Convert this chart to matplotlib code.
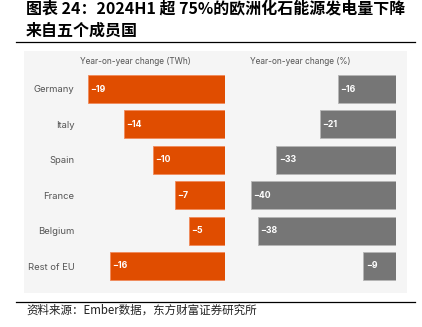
import matplotlib.pyplot as plt
from matplotlib.patches import Rectangle
from matplotlib.lines import Line2D

plt.rcParams['font.family'] = ['Inter', 'DejaVu Sans']

# data
countries = ['Germany', 'Italy', 'Spain', 'France', 'Belgium', 'Rest of EU']
change_twh = [-19, -14, -10, -7, -5, -16]
change_pct = [-16, -21, -33, -40, -38, -9]

title_1 = '图表 24：2024H1 超 75%的欧洲化石能源发电量下降'
title_2 = '来自五个成员国'
source = '资料来源：Ember数据，东方财富证券研究所'

W, H = 422, 327
ORANGE = '#e04d00'
GREY = '#767676'
CJK = ['Noto Sans CJK SC', 'DejaVu Sans']


def fx(px):
    return px / W


def fy(py):
    return 1 - py / H


fig = plt.figure(figsize=(W / 100, H / 100), dpi=100)

# title and rules
fig.text(fx(26), fy(8), title_1, family=CJK, fontsize=11.5, fontweight='bold',
         va='center', ha='left')
fig.text(fx(26), fy(31), title_2, family=CJK, fontsize=11.5, fontweight='bold',
         va='center', ha='left')
fig.add_artist(Line2D([fx(16), fx(415)], [fy(42.3), fy(42.3)], color='black', lw=0.9))
fig.add_artist(Line2D([fx(16), fx(415)], [fy(301.5), fy(301.5)], color='black', lw=0.9))
fig.text(fx(26), fy(310.5), source, family=CJK, fontsize=8.3, va='center', ha='left',
         color='#222222')

# panel background
fig.add_artist(Rectangle((fx(24), fy(292.7)), fx(407) - fx(24), fy(51) - fy(292.7),
                         facecolor='#f5f5f5', edgecolor='none', zorder=0))

fig.text(fx(135), fy(62), 'Year-on-year change (TWh)', fontsize=6.0, color='#555555',
         ha='center', va='center')
fig.text(fx(300.5), fy(62), 'Year-on-year change (%)', fontsize=6.0, color='#555555',
         ha='center', va='center')

top, bottom = 71.3, 283.7
ax1 = fig.add_axes([fx(80), fy(bottom), fx(225) - fx(80), fy(top) - fy(bottom)])
ax2 = fig.add_axes([fx(245), fy(bottom), fx(396) - fx(245), fy(top) - fy(bottom)])

ypos = list(range(len(countries)))
ax1.barh(ypos, change_twh, height=0.79, color=ORANGE, edgecolor='#f08a5a', linewidth=0.6)
ax2.barh(ypos, change_pct, height=0.79, color=GREY, edgecolor='#b5b5b5', linewidth=0.6)

ax1.set_xlim(-145 / 7.2, 0)
ax2.set_xlim(-151 / 3.63, 0)

for ax, vals, unit in [(ax1, change_twh, 7.2), (ax2, change_pct, 3.63)]:
    ax.set_ylim(len(countries) - 0.5, -0.5)
    ax.patch.set_visible(False)
    for s in ax.spines.values():
        s.set_visible(False)
    ax.set_xticks([])
    for i, v in enumerate(vals):
        ax.text(v + 2.5 / unit, i, '\u2212' + str(abs(v)), color='white', fontsize=6.3,
                fontweight='bold', va='center', ha='left')

ax1.set_yticks(ypos)
ax1.set_yticklabels(countries, fontsize=6.8, color='#555555')
ax1.tick_params(axis='y', length=0, pad=4)
ax2.set_yticks([])

fig.savefig('out.png', dpi=100)
